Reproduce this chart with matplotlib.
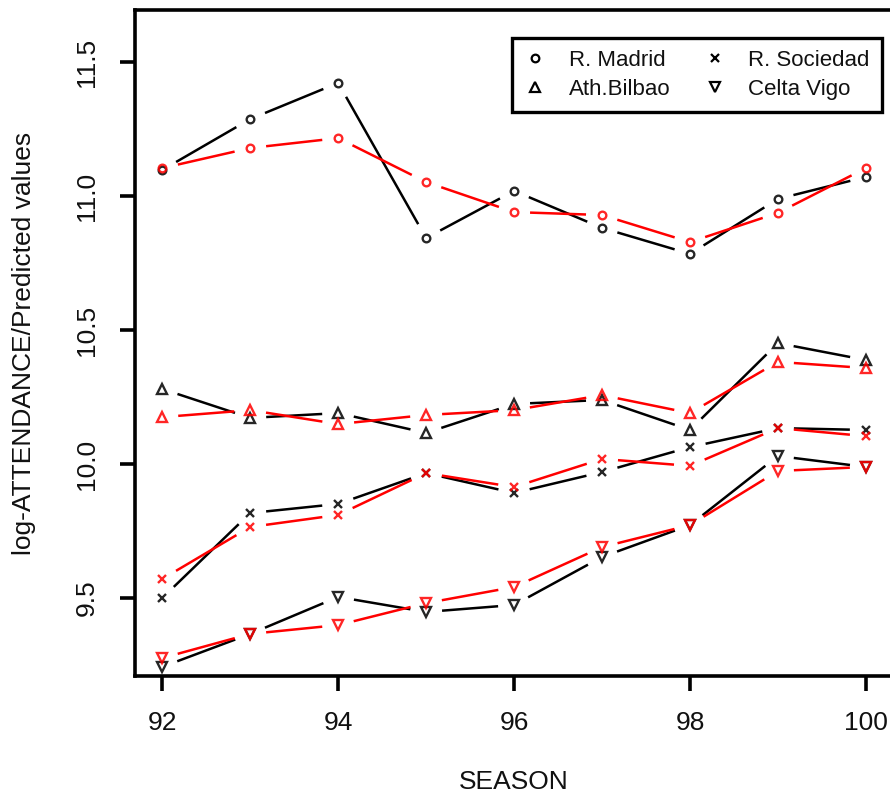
import matplotlib
matplotlib.use("Agg")
import matplotlib.pyplot as plt
from matplotlib.lines import Line2D
import numpy as np

plt.rcParams['font.family'] = ['Liberation Sans', 'DejaVu Sans']

seasons = [92, 93, 94, 95, 96, 97, 98, 99, 100]
teams = ["R. Madrid", "Ath.Bilbao", "R. Sociedad", "Celta Vigo"]
markers = ["o", "^", "x", "v"]

madrid_obs = [11.097, 11.287, 11.422, 10.843, 11.019, 10.881, 10.784, 10.989, 11.071]
madrid_pred = [11.104, 11.179, 11.216, 11.052, 10.940, 10.929, 10.828, 10.937, 11.104]
bilbao_obs = [10.280, 10.172, 10.190, 10.116, 10.224, 10.239, 10.127, 10.451, 10.388]
bilbao_pred = [10.175, 10.201, 10.149, 10.183, 10.201, 10.257, 10.190, 10.381, 10.358]
sociedad_obs = [9.500, 9.817, 9.851, 9.966, 9.892, 9.970, 10.063, 10.134, 10.127]
sociedad_pred = [9.571, 9.765, 9.810, 9.966, 9.914, 10.019, 9.993, 10.134, 10.104]
celta_obs = [9.243, 9.366, 9.504, 9.448, 9.474, 9.653, 9.772, 10.030, 9.989]
celta_pred = [9.276, 9.366, 9.399, 9.481, 9.541, 9.690, 9.772, 9.974, 9.989]

observed = [madrid_obs, bilbao_obs, sociedad_obs, celta_obs]
predicted = [madrid_pred, bilbao_pred, sociedad_pred, celta_pred]

xticks = [92, 94, 96, 98, 100]
yticks = [9.5, 10.0, 10.5, 11.0, 11.5]

W, H = 890, 798
fig = plt.figure(figsize=(W / 100, H / 100), dpi=100)
ax = fig.add_axes([135 / W, 1 - 676 / H, (894 - 135) / W, (676 - 10) / H])
ax.set_xlim(91.69, 100.32)
ax.set_ylim(9.209, 11.694)
ax.set_autoscale_on(False)

GAP = 16.0  # pixels, R type="b" gap around points
MS = {"o": 5.5, "^": 7.0, "x": 5.5, "v": 7.0}


def draw_series(xs, ys, color, marker):
    fig.canvas.draw()
    pts = ax.transData.transform(np.column_stack([xs, ys]))
    inv = ax.transData.inverted()
    for i in range(len(pts) - 1):
        p0, p1 = pts[i], pts[i + 1]
        d = p1 - p0
        L = np.hypot(*d)
        if L <= 2 * GAP:
            continue
        u = d / L
        a = inv.transform(p0 + u * GAP)
        b = inv.transform(p1 - u * GAP)
        ax.plot([a[0], b[0]], [a[1], b[1]], color=color, lw=1.8,
                solid_capstyle='butt', zorder=2)
    ax.plot(xs, ys, linestyle='none', marker=marker, ms=MS[marker],
            mfc='none', mec=color, mew=1.7, zorder=3, alpha=0.85)


for obs, pred, m in zip(observed, predicted, markers):
    draw_series(seasons, obs, 'black', m)
    draw_series(seasons, pred, 'red', m)

for s in ax.spines.values():
    s.set_linewidth(2.6)

ax.set_xticks(xticks)
ax.set_xticklabels([str(t) for t in xticks])
ax.set_yticks(yticks)
ax.set_yticklabels([f"{t:.1f}" for t in yticks], rotation=90, va='center')
ax.tick_params(axis='both', direction='out', length=11, width=2.6,
               labelsize=19, labelcolor='#111111')
ax.tick_params(axis='x', pad=14)
ax.tick_params(axis='y', pad=15)

fig.text(514 / W, 1 - 782 / H, "SEASON", ha='center', va='center',
         fontsize=19, color='#111111')
fig.text(24 / W, 1 - 343 / H, "log-ATTENDANCE/Predicted values",
         rotation=90, ha='center', va='center', fontsize=19, color='#111111')

handles = [Line2D([], [], linestyle='none', marker=m, ms=MS[m],
                  mfc='none', mec='black', mew=1.6) for m in markers]
leg = ax.legend(handles, teams, ncol=2, loc='upper left',
                bbox_to_anchor=(512 / W, 1 - 38 / H),
                bbox_transform=fig.transFigure, borderaxespad=0,
                fancybox=False, edgecolor='black', framealpha=1,
                fontsize=16, handlelength=1.0, handletextpad=1.0,
                columnspacing=1.5, labelspacing=0.35, borderpad=0.55)
leg.get_frame().set_linewidth(2.4)
for t in leg.get_texts():
    t.set_color('#111111')

fig.savefig("out.png", dpi=100)
